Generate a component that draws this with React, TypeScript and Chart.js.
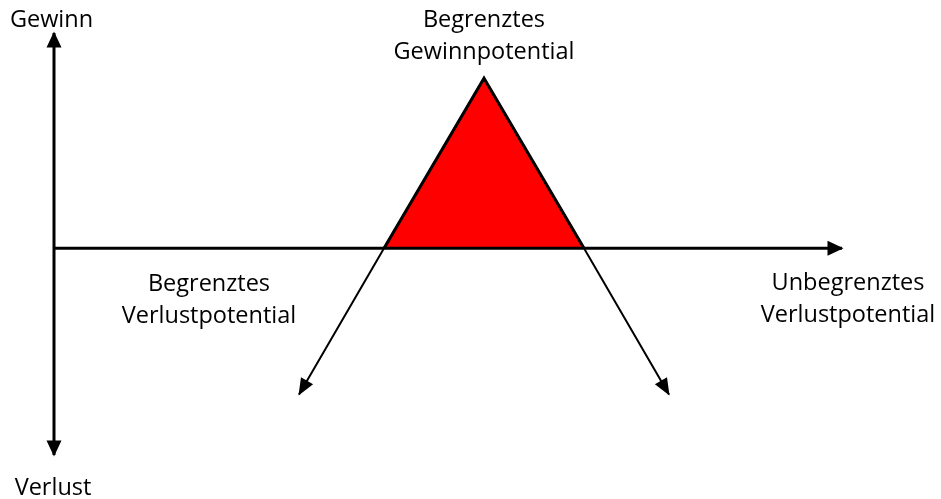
import { useEffect, useRef } from "react";
import { Chart, registerables } from "chart.js";

Chart.register(...registerables);

// Data space: x = underlying price, y = profit / loss
const X_MIN = 3.2;
const X_MAX = 191.4;
const Y_MIN = -29.49;
const Y_MAX = 29.21;

const payoffX = [63, 80, 100, 120, 137];
const payoffY = [-17.2, 0, 20, 0, -17.2];

const profitZoneX = [80, 100, 120];
const profitZoneY = [0, 20, 0];

const vAxisX = [14, 14];
const vAxisY = [-24.32, 25.33];

const hAxisX = [14, 171.6];
const hAxisY = [0, 0];

const labelTexts = [
  ["Gewinn"],
  ["Begrenztes", "Gewinnpotential"],
  ["Begrenztes", "Verlustpotential"],
  ["Unbegrenztes", "Verlustpotential"],
  ["Verlust"],
];
const labelX = [13.5, 100, 45, 172.8, 13.8];
const labelY = [26.0, 26.0, -5.06, -4.94, -29.06];

const toPoints = (xs: number[], ys: number[]) => xs.map((x, i) => ({ x, y: ys[i] }));

const arrowPlugin = {
  id: "arrowHeads",
  afterDatasetsDraw(chart: any, _args: any, opts: any) {
    const ctx = chart.ctx;
    const specs = (opts && opts.specs) || [];
    ctx.save();
    ctx.fillStyle = "#000";
    for (const s of specs) {
      const meta = chart.getDatasetMeta(s.dataset);
      const pts = meta.data;
      if (!pts || pts.length < 2) continue;
      const ends: string[] = s.ends;
      for (const e of ends) {
        const a = e === "start" ? pts[0] : pts[pts.length - 1];
        const b = e === "start" ? pts[1] : pts[pts.length - 2];
        const dx = a.x - b.x;
        const dy = a.y - b.y;
        const len = Math.hypot(dx, dy) || 1;
        const ux = dx / len;
        const uy = dy / len;
        const L = s.length;
        const W = s.halfWidth;
        const tx = a.x + ux * s.extend;
        const ty = a.y + uy * s.extend;
        const bx = tx - ux * L;
        const by = ty - uy * L;
        ctx.beginPath();
        ctx.moveTo(tx, ty);
        ctx.lineTo(bx - uy * W, by + ux * W);
        ctx.lineTo(bx + uy * W, by - ux * W);
        ctx.closePath();
        ctx.fill();
      }
    }
    ctx.restore();
  },
};

const labelPlugin = {
  id: "textLabels",
  afterDraw(chart: any, _args: any, opts: any) {
    const ctx = chart.ctx;
    const xs = chart.scales.x;
    const ys = chart.scales.y;
    ctx.save();
    ctx.fillStyle = opts.color;
    ctx.font = opts.font;
    ctx.textAlign = "center";
    ctx.textBaseline = "alphabetic";
    labelTexts.forEach((lines, i) => {
      const px = xs.getPixelForValue(labelX[i]);
      const py = ys.getPixelForValue(labelY[i]);
      lines.forEach((t, j) => ctx.fillText(t, px, py + j * opts.lineHeight));
    });
    ctx.restore();
  },
};

export default function App() {
  const ref = useRef<HTMLCanvasElement | null>(null);

  useEffect(() => {
    document.body.style.margin = "0";
    const canvas = ref.current;
    if (!canvas) return;
    const chart = new Chart(canvas, {
      type: "scatter",
      data: {
        datasets: [
          {
            label: "Gewinnzone",
            data: toPoints(profitZoneX, profitZoneY),
            showLine: true,
            fill: "origin",
            backgroundColor: "#FF0000",
            borderColor: "#000",
            borderWidth: 3,
            pointRadius: 0,
            order: 3,
          } as any,
          {
            label: "Auszahlung",
            data: toPoints(payoffX, payoffY),
            showLine: true,
            fill: false,
            borderColor: "#000",
            borderWidth: 2,
            pointRadius: 0,
            order: 2,
          } as any,
          {
            label: "Gewinn/Verlust",
            data: toPoints(vAxisX, vAxisY),
            showLine: true,
            fill: false,
            borderColor: "#000",
            borderWidth: 3,
            pointRadius: 0,
            order: 1,
          } as any,
          {
            label: "Kurs",
            data: toPoints(hAxisX, hAxisY),
            showLine: true,
            fill: false,
            borderColor: "#000",
            borderWidth: 3,
            pointRadius: 0,
            order: 1,
          } as any,
        ],
      },
      options: {
        animation: false,
        responsive: false,
        layout: { padding: 0 },
        scales: {
          x: { type: "linear", min: X_MIN, max: X_MAX, display: false },
          y: { type: "linear", min: Y_MIN, max: Y_MAX, display: false },
        },
        plugins: {
          legend: { display: false },
          tooltip: { enabled: false },
          arrowHeads: {
            specs: [
              { dataset: 1, ends: ["start", "end"], length: 17, halfWidth: 7, extend: 1 },
              { dataset: 2, ends: ["start", "end"], length: 16, halfWidth: 7.5, extend: 1.5 },
              { dataset: 3, ends: ["end"], length: 16, halfWidth: 7.5, extend: 1.5 },
            ],
          },
          textLabels: {
            font: '23.5px "Open Sans"',
            color: "#000",
            lineHeight: 31.5,
          },
        } as any,
      },
      plugins: [arrowPlugin, labelPlugin],
    });
    return () => chart.destroy();
  }, []);

  return (
    <div style={{ position: "fixed", left: 0, top: 0, width: 941, height: 499, background: "#fff" }}>
      <canvas ref={ref} width={941} height={499} style={{ display: "block" }} />
    </div>
  );
}
